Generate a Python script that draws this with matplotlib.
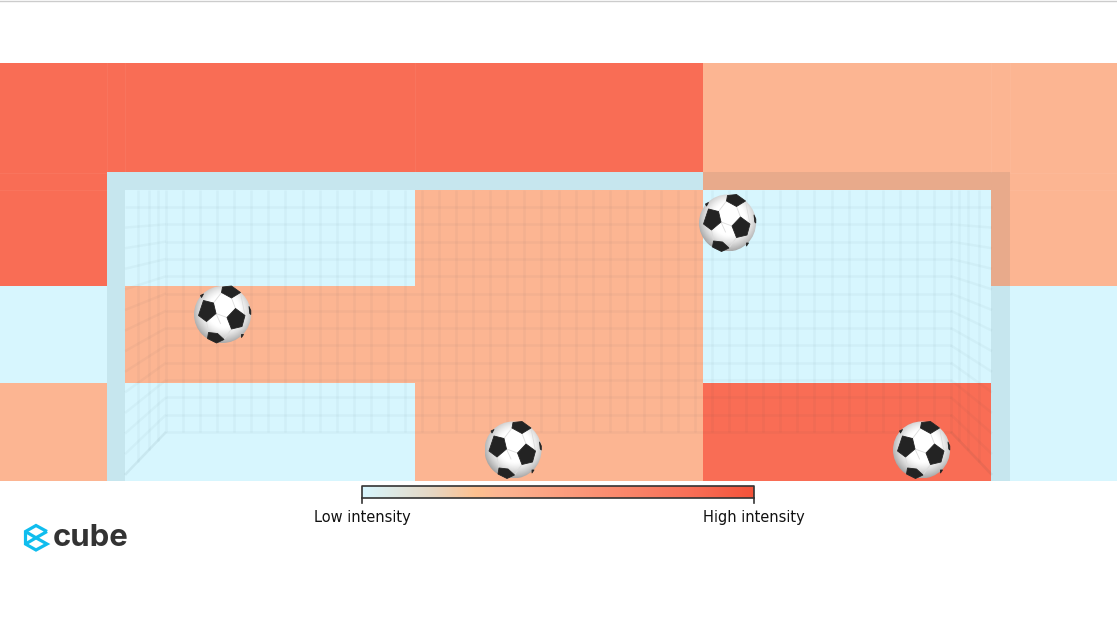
import matplotlib
matplotlib.use("Agg")
import matplotlib.pyplot as plt
import numpy as np
from matplotlib.colors import LinearSegmentedColormap
from matplotlib.patches import Circle, Polygon, Rectangle

# pixel edges of the heat zones on the goal picture
zone_x = [0, 107, 125, 415, 703, 991, 1010, 1117]
zone_y = [63, 172, 190, 286, 383, 481]

LOW, MID, HIGH = 0.0, 0.35, 0.85
intensity = [
    [HIGH, HIGH, HIGH, HIGH, MID, MID, MID],
    [HIGH, LOW, LOW, LOW, MID, MID, MID],
    [HIGH, LOW, LOW, MID, LOW, MID, MID],
    [LOW, LOW, MID, MID, LOW, LOW, LOW],
    [MID, LOW, LOW, MID, HIGH, LOW, LOW],
]

ball_x = [222.5, 727.5, 513, 921.5]
ball_y = [314.5, 223, 450, 450]

cmap = LinearSegmentedColormap.from_list(
    "heat",
    [
        (0.0, "#d7f6fe"),
        (0.18, "#e6d6c2"),
        (0.29, "#fdc08f"),
        (0.35, "#fcb592"),
        (0.85, "#f96d55"),
        (1.0, "#f4533a"),
    ],
)

# ball pieces, in offsets from the ball centre
pentagons = [
    [(-19, -14), (-9, -11.5), (-6.5, -1), (-16, 7), (-24, 1)],
    [(13, -6), (22.5, 1), (19.5, 12), (9, 14.5), (4.5, 3)],
    [(0, -27.5), (9, -28.5), (18, -22), (9, -16.5), (-1, -22)],
    [(-14, 18), (-5, 19), (1.5, 25), (-6, 28.5), (-15, 24)],
    [(26.5, -8), (28.3, -4), (28.3, 0), (27.3, -1)],
    [(-22, -19), (-19, -20.5), (-21, -17)],
    [(19, 20), (21, 20), (19, 23)],
]
seams = [
    [(-9, -11.5), (-1, -22)],
    [(9, -16.5), (13, -6)],
    [(-6.5, -1), (4.5, 3)],
    [(-6.5, -1), (-2, 9)],
    [(9, 14.5), (1.5, 25)],
    [(18, -22), (22.5, 1)],
    [(-16, 7), (-14, 18)],
]


def draw_ball(ax, cx, cy, r=28.5):
    yy, xx = np.mgrid[-1:1:80j, -1:1:80j]
    dist = np.sqrt((xx - 0.05) ** 2 + (yy + 0.12) ** 2)
    shade = np.clip(1.0 - 0.36 * np.clip((dist - 0.55) / 0.6, 0, 1) ** 1.4, 0, 1)
    im = ax.imshow(
        shade,
        cmap="gray",
        vmin=0,
        vmax=1,
        extent=[cx - r, cx + r, cy + r, cy - r],
        aspect="auto",
        interpolation="bilinear",
        zorder=5,
    )
    im.set_clip_path(Circle((cx, cy), r, transform=ax.transData))
    for a, b in seams:
        ax.plot(
            [cx + a[0], cx + b[0]],
            [cy + a[1], cy + b[1]],
            color="#dcdcdc",
            lw=0.6,
            zorder=6,
        )
    for p in pentagons:
        pts = [(cx + x, cy + y) for x, y in p]
        ax.add_patch(Polygon(pts, closed=True, fc="#232323", ec="#232323", lw=0.6, joinstyle="round", zorder=7))


def draw_net(ax):
    net = dict(color="#1c3f4a", alpha=0.035, lw=1.8, solid_capstyle="butt", zorder=3)
    back_x = np.linspace(166, 951, 47)
    back_y = np.linspace(207, 432, 14)
    for x in back_x:
        ax.plot([x, x], [190, 432], **net)
    for y in back_y:
        ax.plot([166, 951], [y, y], **net)
        # side walls fan out towards the posts
        y_front = y + (y - 207) * 0.19
        ax.plot([125, 166], [y_front, y], **net)
        ax.plot([951, 992], [y, y_front], **net)
    for x in [138, 149, 158]:
        y_end = 432 + (166 - x) * 1.07
        ax.plot([x, x], [190, y_end], **net)
        ax.plot([1117 - x, 1117 - x], [190, y_end], **net)
    ax.plot([125, 166], [475, 432], **net)
    ax.plot([951, 992], [432, 475], **net)


def draw_seams(ax):
    # faint edges of the picture tiles that show through the hot zones
    seam = dict(color="white", alpha=0.05, lw=0.8, zorder=2)
    for x in [107, 125, 415, 991, 1010]:
        ax.plot([x, x], [63, 172], **seam)
    for x0, x1 in [(0, 107), (1010, 1117)]:
        ax.plot([x0, x1], [172.5, 172.5], **seam)
        ax.plot([x0, x1], [189.5, 189.5], **seam)


def draw_logo(ax):
    blue = "#10bdee"
    line = dict(color=blue, lw=2.3, solid_joinstyle="miter", solid_capstyle="butt", zorder=4)
    ax.plot(
        [47, 36, 25.5, 25.5, 36, 47, 36, 47],
        [531.5, 525.5, 531.5, 544, 550, 544, 537.8, 531.5],
        **line,
    )
    ax.plot([25.5, 36], [531.5, 537.8], **line)
    ax.plot([25.5, 36], [544, 537.8], **line)
    ax.text(
        52.5, 537.5, "cube", color="#333333", fontsize=22.4, fontweight="bold",
        family="Inter", ha="left", va="center", zorder=4,
    )


fig = plt.figure(figsize=(11.17, 6.27), dpi=100)
ax = fig.add_axes([0, 0, 1, 1])

ax.pcolormesh(zone_x, zone_y, np.array(intensity), cmap=cmap, vmin=0, vmax=1, zorder=1)
draw_seams(ax)

# goal frame is a thin dark film over the zones
frame = dict(fc="#1c3f4a", ec="none", alpha=0.085, zorder=2)
ax.add_patch(Rectangle((107, 172), 903, 18, **frame))
ax.add_patch(Rectangle((107, 190), 18, 291, **frame))
ax.add_patch(Rectangle((991, 190), 19, 291, **frame))
draw_net(ax)

for x, y in zip(ball_x, ball_y):
    draw_ball(ax, x, y)

# intensity scale
ax.imshow(
    np.linspace(0, 1, 256).reshape(1, -1),
    cmap=cmap,
    vmin=0,
    vmax=1,
    extent=[362, 754, 498, 486],
    aspect="auto",
    zorder=3,
)
ax.plot([362, 362, 754, 754], [503, 486, 486, 503], color="#333333", lw=1.2, zorder=4)
ax.plot([362, 754], [498, 498], color="#333333", lw=1.2, zorder=4)
ax.text(362, 517.5, "Low intensity", fontsize=11.7, stretch="condensed", color="#111111", ha="center", va="center")
ax.text(754, 517.5, "High intensity", fontsize=11.7, stretch="condensed", color="#111111", ha="center", va="center")

draw_logo(ax)

ax.plot([0, 1117], [0.5, 0.5], color="#cccccc", lw=1.0, zorder=4)

ax.set_xlim(0, 1117)
ax.set_ylim(627, 0)
ax.axis("off")

fig.savefig("out.png", dpi=100, facecolor="white")
